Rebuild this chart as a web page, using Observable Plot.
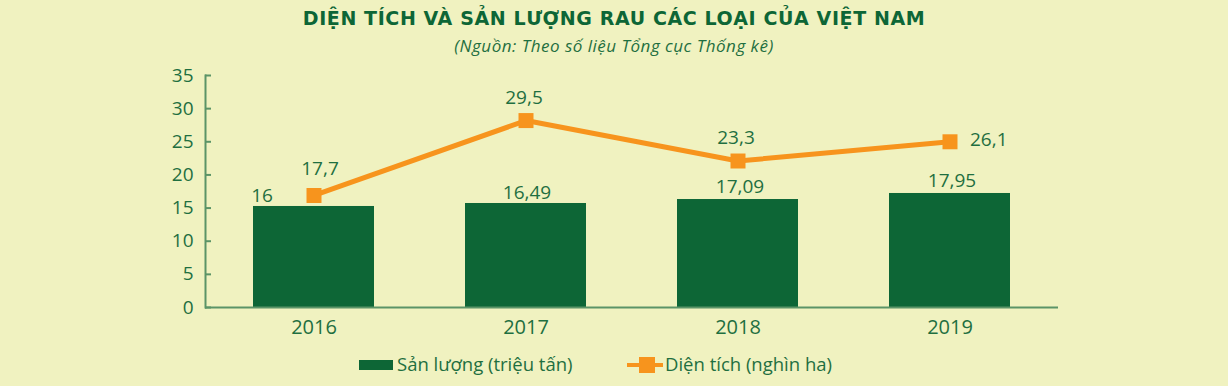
<!DOCTYPE html>
<html><head><meta charset="utf-8">
<script src="https://cdn.jsdelivr.net/npm/d3@7"></script>
<script src="https://cdn.jsdelivr.net/npm/@observablehq/plot@0.6"></script>
<style>
html,body{margin:0;padding:0;background:#f0f2c0;}
#wrap{position:relative;width:1228px;height:386px;background:#f0f2c0;font-family:"Open Sans",sans-serif;overflow:hidden;}
#title{position:absolute;top:7px;left:0;width:1228px;text-align:center;font-family:"DejaVu Sans",sans-serif;font-weight:bold;font-size:19px;letter-spacing:0.6px;color:#0d6636;white-space:nowrap;}
#sub{position:absolute;top:34px;left:0;width:1228px;text-align:center;font-style:italic;font-size:17px;letter-spacing:0.5px;color:#1f6f40;white-space:nowrap;}
#chart{position:absolute;top:60px;left:0;}
.leg{position:absolute;top:352px;font-size:18.5px;color:#1f6f40;white-space:nowrap;line-height:24px;}
</style></head>
<body><div id="wrap">
<div id="title"></div><div id="sub"></div><div id="chart"></div>
<div class="leg" id="leg1"></div><div class="leg" id="leg2"></div>
</div>
<script>
const title = "DIỆN TÍCH VÀ SẢN LƯỢNG RAU CÁC LOẠI CỦA VIỆT NAM";
const subtitle = "(Nguồn: Theo số liệu Tổng cục Thống kê)";
const years = ["2016", "2017", "2018", "2019"];
const seriesNames = ["Sản lượng (triệu tấn)", "Diện tích (nghìn ha)"];
// heights as drawn in the picture
const sanLuong = [15.24, 15.69, 16.29, 17.2];
const dienTich = [16.9, 28.2, 22.1, 25.0];
// value labels as printed
const sanLuongLabels = ["16", "16,49", "17,09", "17,95"];
const dienTichLabels = ["17,7", "29,5", "23,3", "26,1"];
const yTicks = [0, 5, 10, 15, 20, 25, 30, 35];

const GREEN = "#0d6636", ORANGE = "#f7941d", TEXT = "#1f6f40", AXIS = "#5b9467";
const data = years.map((y, i) => ({year: y, s: sanLuong[i], d: dienTich[i], sl: sanLuongLabels[i], dl: dienTichLabels[i]}));

document.getElementById("title").textContent = title;
document.getElementById("sub").textContent = subtitle;

const chart = Plot.plot({
  width: 1228, height: 290,
  marginLeft: 205, marginRight: 170, marginTop: 15, marginBottom: 43,
  style: {background: "transparent", fontFamily: "'Open Sans', sans-serif", color: TEXT},
  x: {domain: years, paddingInner: 0.427, paddingOuter: 0.216, label: null},
  y: {domain: [0, 35], label: null},
  marks: [
    Plot.barY(data, {x: "year", y: "s", fill: GREEN}),
    Plot.ruleY([0], {stroke: AXIS, strokeWidth: 2}),
    Plot.frame({anchor: "left", stroke: AXIS, strokeWidth: 2}),
    Plot.axisY(yTicks, {tickSize: -6, tickPadding: 18, stroke: AXIS, strokeWidth: 2, fontSize: 19, fill: TEXT, label: null}),
    Plot.axisX({tickSize: 0, tickPadding: 12, fontSize: 20, fill: TEXT, label: null}),
    Plot.line(data, {x: "year", y: "d", stroke: ORANGE, strokeWidth: 5}),
    Plot.dot(data, {x: "year", y: "d", symbol: "square", r: 8.46, fill: ORANGE, stroke: null}),
    Plot.text(data, {filter: d => d.year === "2016", x: "year", y: "s", text: "sl", dx: -52, dy: -11, fontSize: 19, fill: TEXT}),
    Plot.text(data, {filter: d => d.year === "2017", x: "year", y: "s", text: "sl", dx: 1, dy: -11, fontSize: 19, fill: TEXT}),
    Plot.text(data, {filter: d => d.year >= "2018", x: "year", y: "s", text: "sl", dx: 2, dy: -13, fontSize: 19, fill: TEXT}),
    Plot.text(data, {filter: d => d.year === "2016", x: "year", y: "d", text: "dl", dx: 6, dy: -27, fontSize: 19, fill: TEXT}),
    Plot.text(data, {filter: d => d.year === "2017" || d.year === "2018", x: "year", y: "d", text: "dl", dx: -2, dy: -23, fontSize: 19, fill: TEXT}),
    Plot.text(data, {filter: d => d.year === "2019", x: "year", y: "d", text: "dl", textAnchor: "start", dx: 20, dy: -2, fontSize: 19, fill: TEXT})
  ]
});
document.getElementById("chart").appendChild(chart);

const l1 = document.getElementById("leg1");
l1.style.left = "359px";
l1.innerHTML = `<span style="display:inline-block;width:34px;height:10px;background:${GREEN};vertical-align:middle;margin-right:4px;position:relative;top:-1px"></span>${seriesNames[0]}`;
const l2 = document.getElementById("leg2");
l2.style.left = "627px";
l2.innerHTML = `<span style="display:inline-block;position:relative;width:36px;height:16px;vertical-align:middle;margin-right:2px;top:-1px"><span style="position:absolute;left:0;top:6px;width:36px;height:4px;background:${ORANGE}"></span><span style="position:absolute;left:12px;top:0;width:16px;height:16px;background:${ORANGE}"></span></span>${seriesNames[1]}`;
</script>
</body></html>
